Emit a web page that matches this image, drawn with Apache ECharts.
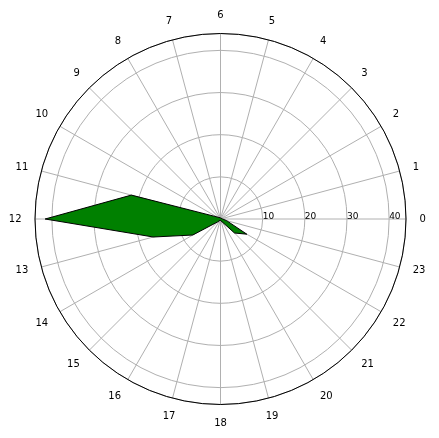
<!DOCTYPE html>
<html>
<head>
<meta charset="utf-8">
<script src="https://cdn.jsdelivr.net/npm/echarts@6/dist/echarts.min.js"></script>
<style>html,body{margin:0;padding:0;background:#fff;}#c{width:439px;height:438px;}</style>
</head>
<body>
<div id="c"></div>
<script>
const hours = [0,1,2,3,4,5,6,7,8,9,10,11,12,13,14,15,16,17,18,19,20,21,22,23];
const values = [0.5,0.3,0.3,0.3,0.3,0.3,0.3,0.3,0.3,0.5,1.0,21.9,41.6,16.5,7.6,1.0,0.5,0.3,0.3,0.5,0.8,4.7,7.2,1.5];
const radialTicks = [10,20,30,40];
const rMax = 44;

const pts = hours.map((h,i)=>[values[i], h*15]);
pts.push([values[0], 360]);

const chart = echarts.init(document.getElementById('c'), null, {renderer:'canvas'});
chart.setOption({
  animation:false,
  backgroundColor:'#fff',
  polar:{center:[220.5,219], radius:185.5},
  angleAxis:{
    type:'value', min:0, max:360, interval:15, startAngle:0, clockwise:false,
    axisLine:{show:true, lineStyle:{color:'#000', width:1}},
    axisTick:{show:false},
    axisLabel:{margin:13.5, color:'#000', fontSize:10, fontFamily:'DejaVu Sans',
      align:'center', verticalAlign:'middle',
      formatter:v=> (v>=360? '' : String(v/15))},
    splitLine:{show:true, lineStyle:{color:'#b0b0b0', width:1}}
  },
  radiusAxis:{
    type:'value', min:0, max:rMax, interval:10,
    axisLine:{show:false}, axisTick:{show:false},
    axisLabel:{color:'#000', fontSize:9, fontFamily:'DejaVu Sans', margin:-2,
      align:'left', verticalAlign:'bottom',
      formatter:v=> radialTicks.indexOf(v)>=0 ? String(v) : ''},
    splitLine:{show:true, lineStyle:{color:'#b0b0b0', width:1}}
  },
  series:[{
    type:'line', coordinateSystem:'polar', data:pts, symbol:'none',
    lineStyle:{color:'#000', width:1},
    areaStyle:{color:'#008000', opacity:1},
    z:3
  }]
});
</script>
</body>
</html>
